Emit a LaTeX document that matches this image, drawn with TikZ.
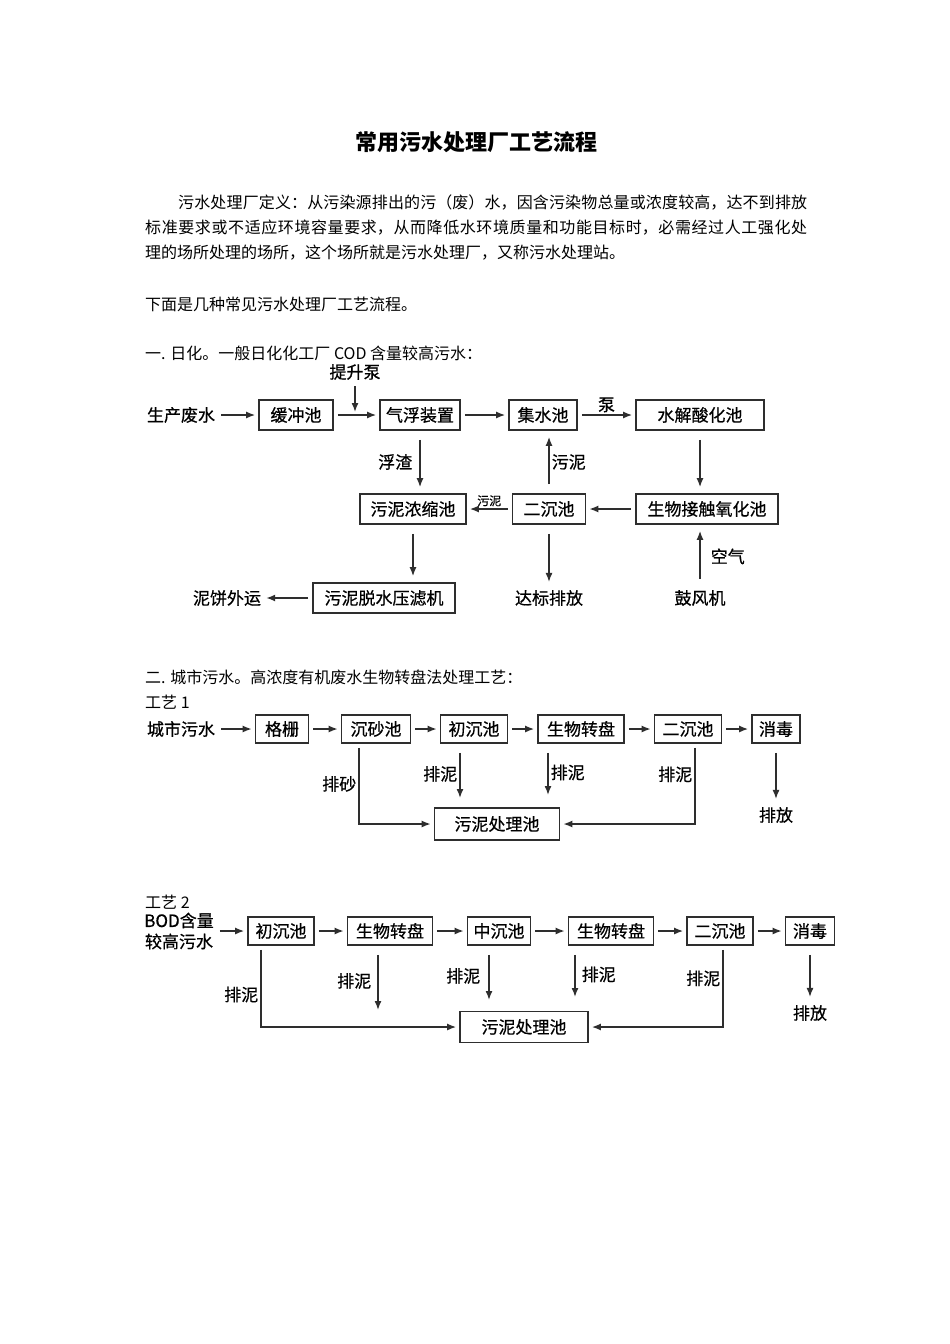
\documentclass[tikz,border=0pt]{standalone}
\usepackage{fontspec}
\setmainfont{Noto Sans CJK SC}
\newfontfamily\dgfam{Noto Sans CJK SC}[FakeBold=0.6]
\XeTeXlinebreaklocale "zh"
\XeTeXlinebreakskip=0pt plus 1pt
\usetikzlibrary{arrows.meta}
\definecolor{linec}{HTML}{2E2E2E}
\newcommand{\dgfont}{\dgfam\fontsize{17}{21}\selectfont}
\newcommand{\bodytxt}{\fontsize{16}{25}\selectfont}
\tikzset{
  proc/.style={draw=linec, line width=1.7pt, minimum height=30, inner sep=2pt, font=\dgfont},
  lbl/.style={font=\dgfont, inner sep=2pt},
  flow/.style={draw=linec, line width=1.5pt, -{Latex[length=9pt,width=7pt]}, shorten >=3pt, shorten <=4pt},
  vflow/.style={flow, shorten >=6pt, shorten <=9pt},
}
\begin{document}
\begin{tikzpicture}[x=1pt,y=-1pt]
        \useasboundingbox (0,0) rectangle (950,1344);
        \fill[white] (0,0) rectangle (950,1344);
        % page text
        \node[font=\fontsize{22}{26}\selectfont\bfseries] (title) at (476,142) {常用污水处理厂工艺流程};
        \node[anchor=north west, text width=662, align=justify, font=\bodytxt, inner sep=0] (intro) at (145,195)
          {\hspace*{33pt}污水处理厂定义：从污染源排出的污（废）水，因含污染物总量或浓度较高，达不到排放\linebreak
           标准要求或不适应环境容量要求，从而降低水环境质量和功能目标时，必需经过人工强化处\linebreak
           理的场所处理的场所，这个场所就是污水处理厂，又称污水处理站。};
        \node[anchor=west, font=\bodytxt, inner sep=0] (list) at (145,304) {下面是几种常见污水处理厂工艺流程。};
        \node[anchor=west, font=\bodytxt, inner sep=0] (sec1) at (145,353) {一. 日化。一般日化化工厂 COD 含量较高污水：};
        \node[anchor=west, font=\bodytxt, inner sep=0] (sec2) at (145,677) {二. 城市污水。高浓度有机废水生物转盘法处理工艺：};
        \node[anchor=west, font=\bodytxt, inner sep=0] (gy1) at (145,702) {工艺 1};
        \node[anchor=west, font=\bodytxt, inner sep=0] (gy2) at (145,902) {工艺 2};
        % diagram 1
        \node[lbl] (scfs) at (181,415) {生产废水};
        \node[proc, minimum width=74] (hcc) at (296,415) {缓冲池};
        \node[proc, minimum width=80] (qfzz) at (420,415) {气浮装置};
        \node[proc, minimum width=68] (jsc) at (543,415) {集水池};
        \node[proc, minimum width=128] (sjsh) at (700,415) {水解酸化池};
        \node[lbl] (tsb) at (355,372) {提升泵};
        \node[proc, minimum width=106] (wnns) at (413,509) {污泥浓缩池};
        \node[proc, minimum width=73] (ecc1) at (549,509) {二沉池};
        \node[proc, minimum width=142] (swjc) at (707,509) {生物接触氧化池};
        \node[lbl] (nbwy) at (227,598) {泥饼外运};
        \node[proc, minimum width=142] (wnts) at (384,598) {污泥脱水压滤机};
        \node[lbl] (dbpf) at (549,598) {达标排放};
        \node[lbl] (gfj) at (700,598) {鼓风机};
        \draw[flow] (scfs) -- (hcc);
        \draw[flow] (hcc) -- (qfzz);
        \draw[flow] (tsb) -- (tsb |- hcc.center);
        \draw[flow] (qfzz) -- (jsc);
        \draw[flow] (jsc) -- node[lbl, above] {泵} (sjsh);
        \draw[vflow] (qfzz) -- node[lbl, left=5pt] {浮渣} (qfzz |- wnns.north);
        \draw[vflow] (ecc1) -- node[lbl, right] {污泥} (ecc1 |- jsc.south);
        \draw[vflow] (sjsh) -- (sjsh |- swjc.north);
        \draw[flow] (swjc) -- (ecc1);
        \draw[flow] (ecc1) -- node[above, font=\dgfam\fontsize{12}{14}\selectfont, inner sep=2pt] {污泥} (wnns);
        \draw[vflow] (wnns) -- (wnns |- wnts.north);
        \draw[flow] (wnts) -- (nbwy);
        \draw[vflow] (ecc1) -- (dbpf);
        \draw[vflow] (gfj) -- node[lbl, right=8pt] {空气} (gfj |- swjc.south);
        % diagram 2
        \node[lbl] (csws) at (181,729) {城市污水};
        \node[proc, minimum width=53, minimum height=28] (gs) at (282,729) {格栅};
        \node[proc, minimum width=69, minimum height=28] (scc) at (376,729) {沉砂池};
        \node[proc, minimum width=67, minimum height=28] (ccc1) at (474,729) {初沉池};
        \node[proc, minimum width=86, minimum height=28] (swzp1) at (581,729) {生物转盘};
        \node[proc, minimum width=67, minimum height=28] (ecc2) at (688,729) {二沉池};
        \node[proc, minimum width=48, minimum height=28] (xd1) at (776,729) {消毒};
        \node[proc, minimum width=125, minimum height=32] (wncl1) at (497,824) {污泥处理池};
        \node[lbl] (pf1) at (776,815) {排放};
        \coordinate (pn1) at (460,804);
        \coordinate (pn2) at (548,801);
        \draw[flow] (csws) -- (gs);
        \draw[flow] (gs) -- (scc);
        \draw[flow] (scc) -- (ccc1);
        \draw[flow] (ccc1) -- (swzp1);
        \draw[flow] (swzp1) -- (ecc2);
        \draw[flow] (ecc2) -- (xd1);
        \draw[flow] ([xshift=-17pt]scc.south) |- node[lbl, pos=0.25, left] {排砂} (wncl1);
        \draw[vflow] (ccc1.south -| pn1) -- node[lbl, left] {排泥} (pn1);
        \draw[vflow] (swzp1.south -| pn2) -- node[lbl, right] {排泥} (pn2);
        \draw[flow] ([xshift=7pt]ecc2.south) |- node[lbl, pos=0.19, left] {排泥} (wncl1);
        \draw[vflow] (xd1) -- (pf1);
        % diagram 3
        \node[lbl, align=center] (bod) at (179,931) {BOD含量\\较高污水};
        \node[proc, minimum width=66, minimum height=28] (ccc2) at (281,931) {初沉池};
        \node[proc, minimum width=85, minimum height=28] (swzp2) at (390,931) {生物转盘};
        \node[proc, minimum width=63, minimum height=28] (zcc) at (499,931) {中沉池};
        \node[proc, minimum width=85, minimum height=28] (swzp3) at (611,931) {生物转盘};
        \node[proc, minimum width=66, minimum height=28] (ecc3) at (720,931) {二沉池};
        \node[proc, minimum width=49, minimum height=28] (xd2) at (810,931) {消毒};
        \node[proc, minimum width=128, minimum height=31] (wncl2) at (524,1027) {污泥处理池};
        \node[lbl] (pf2) at (810,1013) {排放};
        \coordinate (pn3) at (378,1016);
        \coordinate (pn4) at (489,1006);
        \coordinate (pn5) at (575,1003);
        \draw[flow] (bod) -- (ccc2);
        \draw[flow] (ccc2) -- (swzp2);
        \draw[flow] (swzp2) -- (zcc);
        \draw[flow] (zcc) -- (swzp3);
        \draw[flow] (swzp3) -- (ecc3);
        \draw[flow] (ecc3) -- (xd2);
        \draw[flow] ([xshift=-20pt]ccc2.south) |- node[lbl, pos=0.3, left] {排泥} (wncl2);
        \draw[vflow] (swzp2.south -| pn3) -- node[lbl, left=4pt] {排泥} (pn3);
        \draw[vflow] (zcc.south -| pn4) -- node[lbl, left=6pt] {排泥} (pn4);
        \draw[vflow] (swzp3.south -| pn5) -- node[lbl, right=4pt] {排泥} (pn5);
        \draw[flow] ([xshift=3pt]ecc3.south) |- node[lbl, pos=0.2, left] {排泥} (wncl2);
        \draw[vflow] (xd2) -- (pf2);
      \end{tikzpicture}
\end{document}
